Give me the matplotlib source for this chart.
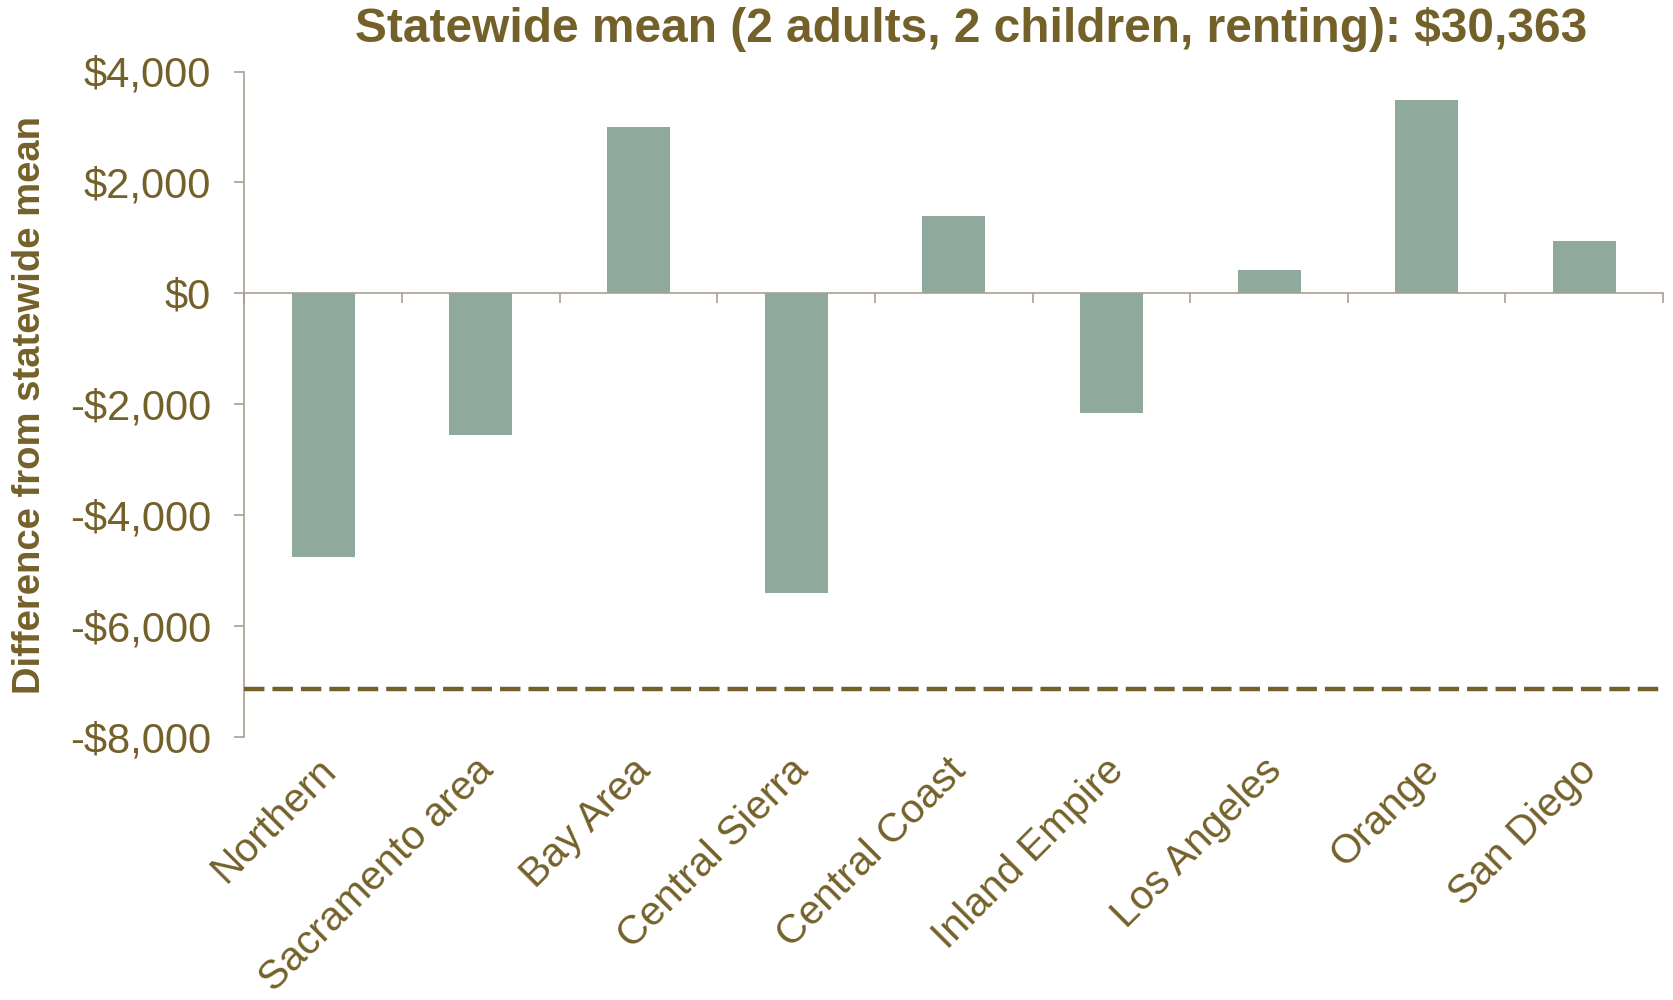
import matplotlib.pyplot as plt
import matplotlib.transforms as mtransforms
from matplotlib.ticker import FuncFormatter

# Data
regions = ['Northern', 'Sacramento area', 'Bay Area', 'Central Sierra', 'Central Coast',
           'Inland Empire', 'Los Angeles', 'Orange', 'San Diego']
diff_from_mean = [-4750, -2560, 3000, -5400, 1400, -2150, 420, 3480, 940]
reference_line = -7130
y_ticks = [4000, 2000, 0, -2000, -4000, -6000, -8000]
title_text = 'Statewide mean (2 adults, 2 children, renting): $30,363'
y_label = 'Difference from statewide mean'

text_color = '#74612A'
bar_color = '#8FA99D'
axis_color = '#A8A090'

plt.rcParams['font.family'] = ['Liberation Sans', 'DejaVu Sans']

fig = plt.figure(figsize=(16.74, 10), dpi=100)
ax = fig.add_axes([0.146, 0.263, 0.8475, 0.6655])

x = list(range(len(regions)))
ax.bar(x, diff_from_mean, width=0.4, color=bar_color, zorder=2)

# Dashed reference line
ax.axhline(reference_line, color=text_color, linewidth=3.2, dashes=(4.6, 1.8), zorder=3)

ax.set_xlim(-0.5, len(regions) - 0.5)
ax.set_ylim(y_ticks[-1], y_ticks[0])

# Spines: left axis plus a zero line carrying the category separators
for side in ['top', 'right']:
    ax.spines[side].set_visible(False)
ax.spines['left'].set_color(axis_color)
ax.spines['left'].set_linewidth(1.2)
ax.spines['bottom'].set_position(('data', 0))
ax.spines['bottom'].set_color(axis_color)
ax.spines['bottom'].set_linewidth(1.2)

ax.set_xticks([i - 0.5 for i in range(len(regions) + 1)])
ax.set_xticklabels([])
ax.tick_params(axis='x', direction='out', length=7, width=1.2, color=axis_color)

ax.set_yticks(y_ticks)
ax.yaxis.set_major_formatter(FuncFormatter(lambda v, p: f'${v:,.0f}' if v >= 0 else f'-${-v:,.0f}'))
ax.tick_params(axis='y', direction='out', length=7, width=1.2, color=axis_color,
               labelsize=30, labelcolor=text_color, pad=17)

# Category labels below the plot
offset = mtransforms.ScaledTranslation(-5 / 72, -10 / 72, fig.dpi_scale_trans)
trans = mtransforms.blended_transform_factory(ax.transData, ax.transAxes) + offset
for i, name in enumerate(regions):
    ax.text(i, 0, name, transform=trans, rotation=45, ha='right', va='top',
            rotation_mode='anchor', fontsize=29.3, color=text_color)

fig.text(0.018, 0.595, y_label, rotation=90, ha='center', va='center',
         fontsize=27.5, fontweight='bold', color=text_color)
fig.text(0.58, 0.971, title_text, ha='center', va='center', fontsize=34.5,
         fontweight='bold', color=text_color)

plt.savefig('out.png', dpi=100)
